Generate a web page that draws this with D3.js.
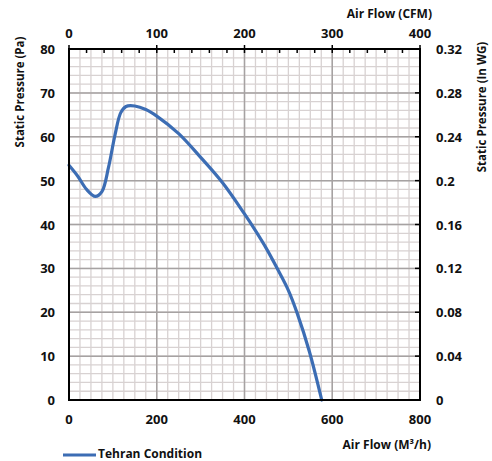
<!DOCTYPE html>
<html><head><meta charset="utf-8">
<script src="https://cdn.jsdelivr.net/npm/d3@7"></script>
<style>body{margin:0;background:#fff}svg text{font-family:"Open Sans",sans-serif;font-weight:bold;fill:#111}</style>
</head><body><svg id="c" width="492" height="461"></svg>
<script>
const flowM3h = [0,20,40,60,75,90,105,118,130,150,175,200,250,300,350,400,425,450,475,500,520,548,576];
const pressurePa = [53.5,51,48,46.4,47.5,53,60.5,65.5,66.9,67,66.2,64.7,60.7,55.3,49.5,42.4,38.6,34.5,29.9,25.0,19.8,11.0,0];
const bottomTicks = [0,200,400,600,800];
const topTicks = [0,100,200,300,400];
const leftTicks = [0,10,20,30,40,50,60,70,80];
const rightTicks = [0,0.04,0.08,0.12,0.16,0.2,0.24,0.28,0.32];
const seriesName = "Tehran Condition";

const L=69,R=420,T=49,B=400;
const svg=d3.select("#c");
const x=d3.scaleLinear().domain([0,800]).range([L,R]);
const xT=d3.scaleLinear().domain([0,400]).range([L,R]);
const y=d3.scaleLinear().domain([0,80]).range([B,T]);
const yR=d3.scaleLinear().domain([0,0.32]).range([B,T]);

// minor grid
const g=svg.append("g");
g.selectAll(".vx").data(d3.range(0,801,25)).join("line")
 .attr("x1",d=>x(d)).attr("x2",d=>x(d)).attr("y1",T).attr("y2",B)
 .attr("stroke","#d8d2d2").attr("stroke-width",1.3);
g.selectAll(".hy").data(d3.range(0,81,2)).join("line")
 .attr("y1",d=>y(d)).attr("y2",d=>y(d)).attr("x1",L).attr("x2",R)
 .attr("stroke","#d8d2d2").attr("stroke-width",1.3);
// majors on top
g.selectAll(".mx").data([200,400,600]).join("line")
 .attr("x1",d=>x(d)).attr("x2",d=>x(d)).attr("y1",T).attr("y2",B).attr("stroke","#a6a2a2").attr("stroke-width",1.5);
g.selectAll(".my").data(d3.range(10,80,10)).join("line")
 .attr("y1",d=>y(d)).attr("y2",d=>y(d)).attr("x1",L).attr("x2",R).attr("stroke","#a6a2a2").attr("stroke-width",1.5);

// curve
const line=d3.line().x(d=>x(d[0])).y(d=>y(d[1])).curve(d3.curveCatmullRom.alpha(0.5));
svg.append("path").datum(flowM3h.map((f,i)=>[f,pressurePa[i]]))
 .attr("d",line).attr("fill","none").attr("stroke","#3c6db4").attr("stroke-width",3.2).attr("stroke-linecap","round");

// frame
svg.append("rect").attr("x",L).attr("y",T).attr("width",R-L).attr("height",B-T)
 .attr("fill","none").attr("stroke","#000").attr("stroke-width",2);

// top axis ticks
svg.selectAll(".tmin").data(d3.range(0,401,20)).join("line")
 .attr("x1",d=>xT(d)).attr("x2",d=>xT(d))
 .attr("y1",d=>d%100===0?T-4:T).attr("y2",T+4).attr("stroke","#000").attr("stroke-width",1.5);
// right axis ticks
svg.selectAll(".rt").data(rightTicks).join("line")
 .attr("x1",R-5).attr("x2",R).attr("y1",d=>yR(d)).attr("y2",d=>yR(d)).attr("stroke","#000").attr("stroke-width",1.5);

// labels
const fs=13;
svg.selectAll(".bl").data(bottomTicks).join("text").attr("x",d=>x(d)).attr("y",424)
 .attr("text-anchor","middle").attr("font-size",fs).text(d=>d);
svg.selectAll(".tl").data(topTicks).join("text").attr("x",d=>xT(d)).attr("y",38)
 .attr("text-anchor","middle").attr("font-size",fs).text(d=>d);
svg.selectAll(".ll").data(leftTicks).join("text").attr("x",55).attr("y",d=>y(d)+5)
 .attr("text-anchor","end").attr("font-size",fs).text(d=>d);
svg.selectAll(".rl").data(rightTicks).join("text").attr("x",436).attr("y",d=>yR(d)+5)
 .attr("text-anchor","start").attr("font-size",fs).text(d=>d);

svg.append("text").attr("x",432).attr("y",18).attr("text-anchor","end").attr("font-size",12).text("Air Flow (CFM)");
svg.append("text").attr("x",431).attr("y",449).attr("text-anchor","end").attr("font-size",12).text("Air Flow (M³/h)");
svg.append("text").attr("transform","translate(24,92) rotate(-90)").attr("text-anchor","middle").attr("font-size",11.5).text("Static Pressure (Pa)");
svg.append("text").attr("transform","translate(486,107) rotate(-90)").attr("text-anchor","middle").attr("font-size",11.5).text("Static Pressure (In WG)");

// legend
svg.append("line").attr("x1",63).attr("x2",96).attr("y1",455).attr("y2",455).attr("stroke","#3c6db4").attr("stroke-width",3);
svg.append("text").attr("x",98).attr("y",458).attr("font-size",12).text(seriesName);
</script></body></html>
